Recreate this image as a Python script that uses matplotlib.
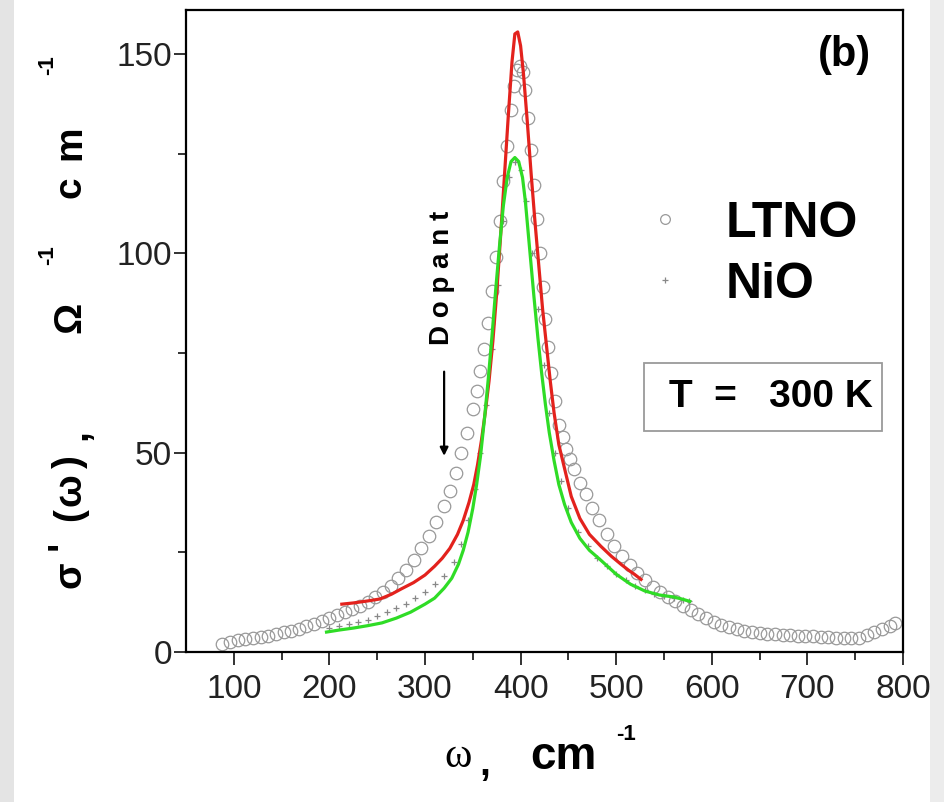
import matplotlib
matplotlib.use('Agg')
import matplotlib.pyplot as plt
import matplotlib.patches as mpatches

# LTNO measured points (open circles)
ltno_w = [88, 96, 104, 112, 120, 128, 136, 144, 152, 160, 168, 176, 184, 192, 200,
          208, 216, 224, 232, 240, 248, 256, 264, 272, 280, 288, 296, 304, 312, 320,
          326, 332, 338, 344, 350, 354, 358, 362, 366, 370, 374, 378, 382, 386, 390,
          393, 396, 399, 402, 405, 408, 411, 414, 417, 420, 423, 426, 429, 432, 436,
          440, 444, 448, 452, 456, 462, 468, 475, 482, 490, 498, 506, 514, 522, 530,
          538, 546, 554, 562, 570, 578, 586, 594, 602, 610, 618, 626, 634, 642, 650,
          658, 666, 674, 682, 690, 698, 706, 714, 722, 730, 738, 746, 754, 762, 770,
          778, 786, 792]
ltno_s = [2.0, 2.5, 3.0, 3.2, 3.5, 3.8, 4.0, 4.5, 5.0, 5.3, 5.8, 6.4, 7.0, 7.8, 8.5,
          9.2, 10.0, 10.8, 11.5, 12.5, 13.8, 15.0, 16.5, 18.5, 20.5, 23.0, 26.0, 29.0, 32.5, 36.5,
          40.5, 45.0, 50.0, 55.0, 61.0, 65.5, 70.5, 76.0, 82.5, 90.5, 99.0, 108.0, 118.0, 127.0, 136.0,
          142.0, 146.0, 147.0, 145.5, 141.0, 134.0, 126.0, 117.0, 108.5, 100.0, 91.5, 83.5, 76.5, 70.0, 63.0,
          57.0, 54.0, 51.0, 48.5, 46.0, 42.5, 39.5, 36.0, 33.0, 29.5, 26.5, 24.0, 21.8, 19.8, 18.0,
          16.4, 15.0, 13.8, 12.7, 11.6, 10.6, 9.6, 8.6, 7.6, 6.8, 6.2, 5.7, 5.3, 5.0, 4.8,
          4.6, 4.4, 4.3, 4.2, 4.1, 4.0, 3.9, 3.8, 3.7, 3.6, 3.6, 3.5, 3.6, 4.2, 5.0,
          5.8, 6.6, 7.3]

# NiO measured points (small crosses)
nio_w = [200, 210, 220, 230, 240, 250, 260, 270, 280, 290, 300, 310, 320, 330, 338,
         345, 352, 358, 364, 370, 376, 382, 388, 394, 400, 406, 412, 418, 424, 430,
         436, 442, 450, 460, 470, 480, 490, 500, 510, 520, 530, 540, 550, 560, 570, 576]
nio_s = [6.0, 6.5, 7.0, 7.5, 8.0, 9.0, 10.0, 11.0, 12.0, 13.5, 15.0, 17.0, 19.0, 22.5, 27.0,
         33.0, 41.0, 50.0, 62.0, 76.0, 92.0, 108.0, 119.0, 123.0, 121.0, 113.0, 100.0, 86.0, 72.0, 60.0,
         50.0, 43.0, 36.0, 30.0, 26.5, 23.5, 21.5, 19.5, 18.0, 16.5, 15.5, 14.5, 14.0, 13.5, 13.0, 12.7]

# fit curves
red_w = [213, 225, 240, 253, 265, 275, 288, 300, 310, 318, 326, 334, 340, 346, 351,
         355, 359, 363, 367, 371, 375, 379, 383, 387, 391, 394, 397, 400, 403, 407,
         411, 415, 419, 423, 427, 431, 435, 440, 446, 453, 462, 472, 484, 495, 505,
         513, 519, 526]
red_s = [12.0, 12.3, 12.8, 13.3, 14.5, 15.8, 17.4, 19.3, 21.5, 23.5, 26.0, 29.5, 33.0, 37.5, 42.0,
         47.0, 53.0, 60.0, 68.0, 78.0, 90.0, 104.0, 119.0, 134.0, 148.0, 155.0, 155.5, 152.0, 145.0, 133.0,
         120.0, 108.0, 97.0, 86.0, 77.0, 68.0, 60.0, 52.0, 46.0, 39.0, 33.5, 29.5, 26.5, 24.0, 22.0,
         20.5, 19.5, 18.2]

green_w = [197, 210, 225, 240, 255, 270, 285, 300, 310, 320, 328, 335, 340, 345, 350,
           354, 358, 362, 366, 370, 374, 378, 382, 386, 390, 394, 398, 402, 405, 408,
           411, 414, 418, 422, 426, 430, 435, 440, 446, 453, 462, 472, 484, 500, 515,
           530, 545, 560, 570, 577]
green_s = [5.0, 5.5, 6.0, 6.6, 7.3, 8.5, 10.0, 12.0, 13.5, 16.0, 18.5, 22.0, 25.5, 30.0, 36.0,
           42.0, 49.0, 58.0, 68.0, 79.0, 91.0, 102.0, 112.0, 119.0, 123.0, 124.0, 123.0, 119.0, 113.0, 105.0,
           97.0, 89.0, 79.0, 70.0, 62.0, 55.0, 48.0, 42.0, 37.0, 32.5, 28.5, 25.5, 23.0, 19.5, 17.0,
           15.3, 14.3, 13.8, 13.2, 12.7]

x_ticks = [100, 200, 300, 400, 500, 600, 700, 800]
y_ticks = [0, 50, 100, 150]

W, H = 944, 802
fig = plt.figure(figsize=(W / 100, H / 100), dpi=100)
fig.patch.set_facecolor('white')

# grey scan borders of the original page
fig.add_artist(mpatches.Rectangle((0, 0), 14 / W, 1, transform=fig.transFigure,
                                  color='#e4e4e4', lw=0, zorder=0))
fig.add_artist(mpatches.Rectangle((930 / W, 0), 14 / W, 1, transform=fig.transFigure,
                                  color='#ececec', lw=0, zorder=0))

ax = fig.add_axes([186 / W, 1 - 652 / H, 717 / W, 642 / H])

grey = '#999999'
ax.plot(ltno_w, ltno_s, 'o', mfc='none', mec=grey, ms=9, mew=0.9, label='LTNO', zorder=2)
ax.plot(nio_w, nio_s, '+', color='#888888', ms=5, mew=0.9, label='NiO', zorder=2)
ax.plot(red_w, red_s, color='#e3221d', lw=2.3, zorder=3)
ax.plot(green_w, green_s, color='#2fdc26', lw=2.3, zorder=3)

ax.set_xlim(50, 800)
ax.set_ylim(0, 161)
ax.set_xticks(x_ticks)
ax.set_yticks(y_ticks)
ax.set_xticks([150, 250, 350, 450, 550, 650, 750], minor=True)
ax.set_yticks([25, 75, 125], minor=True)
ax.tick_params(which='both', direction='out', top=False, right=False, width=1.3, colors='#222222')
ax.tick_params(which='major', length=9)
ax.tick_params(which='minor', length=6)
ax.tick_params(axis='x', pad=7)
ax.tick_params(axis='y', pad=1)
for lab in ax.get_xticklabels() + ax.get_yticklabels():
    lab.set_family('Liberation Sans')
    lab.set_fontsize(24)
    lab.set_color('#222222')
for sp in ax.spines.values():
    sp.set_linewidth(1.6)

bold = dict(family='Liberation Sans', weight='bold')

leg = ax.legend(loc='upper left', bbox_to_anchor=(0.637, 0.703), frameon=False,
                prop=dict(family='Liberation Sans', weight='bold', size=36),
                handlelength=0.9, handletextpad=0.75, labelspacing=0.3,
                borderpad=0, borderaxespad=0)
leg.legend_handles[0].set_markersize(7)

ax.text(739, 149.6, '(b)', fontsize=30, ha='center', va='center', **bold)

ax.add_patch(mpatches.Rectangle((529.5, 55.4), 248.5, 17.0, fill=False, ec='#9a9a9a', lw=1.3))
ax.text(555, 63.9, 'T  =   300 K', fontsize=28, ha='left', va='center', **bold)

ax.text(318, 93.7, 'D o p a n t', rotation=90, fontsize=20, ha='center', va='center', **bold)
ax.annotate('', xy=(320, 48.5), xytext=(320, 71),
            arrowprops=dict(arrowstyle='-|>', color='black', lw=1.6, mutation_scale=12))

# y-axis label, spread out as in the original
ylab = [('σ', 70, 575, 28), ("'", 64, 545, 28), ('(', 70, 515, 28), ('ω', 70, 490, 28),
        (')', 70, 462, 28), (',', 76, 435, 28), ('Ω', 70, 317, 28), ('-1', 48, 255, 16),
        ('c', 70, 187, 28), ('m', 70, 143, 28), ('-1', 48, 65, 16)]
for s, px, py, fs in ylab:
    fig.text(px / W, 1 - py / H, s, rotation=90, fontsize=fs, ha='center', va='center', **bold)

# x-axis label
fig.text(458 / W, 1 - 757 / H, 'ω', family='Liberation Serif', fontsize=30, ha='center', va='center')
fig.text(485 / W, 1 - 765 / H, ',', fontsize=28, ha='center', va='center', **bold)
fig.text(563 / W, 1 - 757 / H, 'cm', fontsize=33, ha='center', va='center', **bold)
fig.text(626 / W, 1 - 735 / H, '-1', fontsize=16, ha='center', va='center', **bold)

fig.savefig('out.png', dpi=100)
